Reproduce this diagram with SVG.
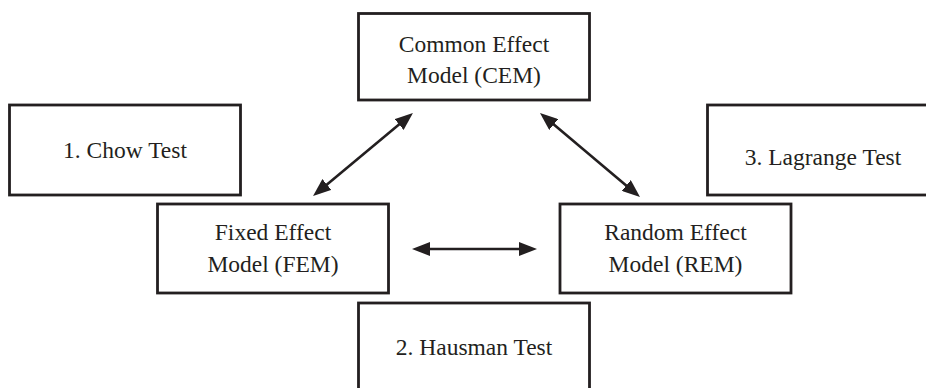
<svg xmlns="http://www.w3.org/2000/svg" width="926" height="388" viewBox="0 0 926 388">
<style>
.box{fill:#ffffff;stroke:#231f20;stroke-width:2.8}
.lbl{font-family:"Liberation Serif","Times New Roman",serif;font-size:23.5px;fill:#231f20;text-anchor:middle}
.conn{stroke:#231f20;stroke-width:2.6;fill:none}
</style>
<defs>
<marker id="ah" markerUnits="userSpaceOnUse" markerWidth="18" markerHeight="14" refX="10" refY="7" orient="auto-start-reverse" viewBox="0 0 18 14">
<path d="M0,0 L18,7 L0,14 z" fill="#231f20"/>
</marker>
</defs>
<rect x="0" y="0" width="926" height="388" fill="#ffffff"/>
<g id="cem">
<rect class="box" x="358.5" y="13.5" width="231" height="86.5"/>
<text class="lbl" x="474" y="52">Common Effect</text>
<text class="lbl" x="474" y="83">Model (CEM)</text>
</g>
<g id="chow">
<rect class="box" x="9.5" y="105" width="231" height="90"/>
<text class="lbl" x="125" y="158">1. Chow Test</text>
</g>
<g id="lagrange">
<rect class="box" x="707.5" y="105" width="231" height="90"/>
<text class="lbl" x="823" y="165">3. Lagrange Test</text>
</g>
<g id="fem">
<rect class="box" x="157.5" y="204" width="231" height="89"/>
<text class="lbl" x="273" y="240">Fixed Effect</text>
<text class="lbl" x="273" y="272">Model (FEM)</text>
</g>
<g id="rem">
<rect class="box" x="560" y="204" width="231" height="89"/>
<text class="lbl" x="675.5" y="240">Random Effect</text>
<text class="lbl" x="675.5" y="272">Model (REM)</text>
</g>
<g id="hausman">
<rect class="box" x="358.5" y="303" width="231" height="90"/>
<text class="lbl" x="474" y="355">2. Hausman Test</text>
</g>
<g id="connectors">
<line class="conn" x1="319.2" y1="190.9" x2="406.8" y2="118.1" marker-start="url(#ah)" marker-end="url(#ah)"/>
<line class="conn" x1="546.1" y1="118.1" x2="633.9" y2="191.9" marker-start="url(#ah)" marker-end="url(#ah)"/>
<line class="conn" x1="420" y1="249" x2="529" y2="249" marker-start="url(#ah)" marker-end="url(#ah)"/>
</g>
</svg>
